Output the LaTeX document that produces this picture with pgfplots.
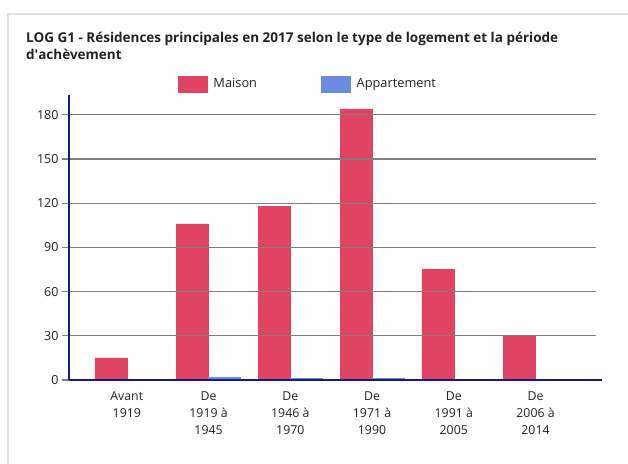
\documentclass[border=0pt]{standalone}
\usepackage{fontspec}
\setmainfont{Open Sans}
\usepackage{pgfplots}
\pgfplotsset{compat=1.18}
\definecolor{maison}{RGB}{224,68,98}
\definecolor{appart}{RGB}{106,139,228}
\definecolor{axisblue}{RGB}{24,24,140}
\definecolor{gridgray}{RGB}{128,128,128}
\definecolor{txt}{RGB}{34,34,34}
\begin{document}
\begin{tikzpicture}[x=1pt,y=1pt]
\path[use as bounding box] (0,0) rectangle (628,463);
\draw[color=black!12, line width=2pt] (8,-2) -- (8,449) -- (630,449);
\node[anchor=north west, align=left, inner sep=0, text=txt,
  font=\bfseries\fontsize{13.5}{16.5}\selectfont] at (26,431)
  {LOG G1 - Résidences principales en 2017 selon le type de logement et la période\\d\textquotesingle achèvement};
\begin{axis}[
  at={(69pt,83pt)}, anchor=south west, scale only axis,
  width=527pt, height=285pt,
  xmin=-0.707, xmax=5.74, ymin=0, ymax=193.4,
  ybar=0pt, bar width=32pt,
  axis on top,
  axis x line*=bottom, axis y line*=left,
  x axis line style={-, axisblue, line width=1.5pt, shorten >=-6pt},
  y axis line style={-, axisblue, line width=1.5pt},
  ytick={0,30,60,90,120,150,180},
  ymajorgrids, grid style={gridgray, line width=1.2pt},
  ytick style={gridgray, line width=1.2pt},
  tick align=outside, major tick length=7pt,
  xtick={0,1,2,3,4,5}, xtick style={draw=none},
  xticklabels={{Avant\\1919},{De\\1919 à\\1945},{De\\1946 à\\1970},{De\\1971 à\\1990},{De\\1991 à\\2005},{De\\2006 à\\2014}},
  x tick label style={align=center, font=\fontsize{12.3}{17}\selectfont, text=txt, yshift=-1pt},
  y tick label style={font=\fontsize{12.5}{14}\selectfont, text=txt},
  /pgf/number format/assume math mode=true,
  legend columns=2,
  legend style={draw=none, inner sep=0pt, at={(0.2068,1.0386)}, anchor=west,
    font=\fontsize{12.8}{14}\selectfont, text=txt,
    /tikz/every odd column/.append style={column sep=4pt},
    /tikz/every even column/.append style={column sep=62pt}},
  legend image code/.code={\fill[#1] (0pt,-8pt) rectangle (29pt,8pt);},
]
\addplot[fill=maison, draw=maison, line width=0.3pt] coordinates {(0,15) (1,106) (2,118) (3,184) (4,75) (5,30)};
\addplot[fill=appart, draw=appart, line width=0.6pt] coordinates {(0,0) (1,2) (2,1) (3,1) (4,0) (5,0)};
\legend{Maison, Appartement}
\end{axis}
\end{tikzpicture}
\end{document}
